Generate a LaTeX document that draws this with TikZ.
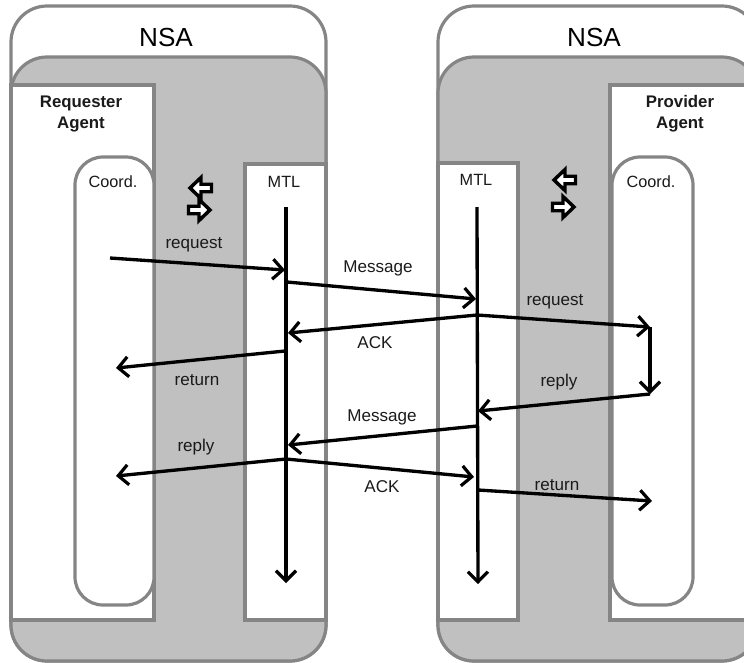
\documentclass[tikz,border=0pt]{standalone}
\usepackage{fontspec}
\setmainfont{Liberation Sans}
\usetikzlibrary{arrows.meta}
\definecolor{edge}{HTML}{858585}
\definecolor{panel}{HTML}{C0C0C0}
\definecolor{ink}{HTML}{1A1A1A}
\tikzset{
  box/.style={draw=edge,line width=2.4pt,inner sep=0pt,outer sep=0pt,anchor=north west},
  outerbox/.style={box,fill=white,rounded corners=27pt},
  grayzone/.style={box,fill=panel,rounded corners=27pt},
  whitebox/.style={box,fill=white},
  coordbox/.style={box,fill=white,rounded corners=21pt},
  flow/.style={line width=2.5pt,black,-{Straight Barb[length=7.5pt,width=15pt,line width=2.4pt]}},
  plainlabel/.style={font=\fontsize{12.8}{15}\selectfont,text=ink,inner sep=0pt},
  boxlabel/.style={font=\fontsize{12.2}{14}\selectfont,text=ink,inner sep=0pt},
  titlelabel/.style={font=\fontsize{19.6}{22}\selectfont,text=black,inner sep=0pt},
  agentlabel/.style={font=\fontsize{12.6}{15.8}\selectfont\bfseries,text=ink,inner sep=0pt,align=center},
  blockleft/.pic={\draw[black,fill=white,line width=2.6pt,line join=miter]
     (-10,0)--(1,-10.5)--(1,-3.75)--(11.5,-3.75)--(11.5,3.75)--(1,3.75)--(1,10.5)--cycle;},
  blockright/.pic={\draw[black,fill=white,line width=2.6pt,line join=miter]
     (10,0)--(-1,-10.5)--(-1,-3.75)--(-11.5,-3.75)--(-11.5,3.75)--(-1,3.75)--(-1,10.5)--cycle;},
}
\begin{document}
\begin{tikzpicture}[x=0.75pt,y=-0.75pt]
\useasboundingbox (0,0) rectangle (744,662);
\clip (0,0) rectangle (744,662);
% left NSA
\node[outerbox,minimum width=236.25pt,minimum height=491.25pt] (nsaL) at (11,6) {};
\node[grayzone,minimum width=236.25pt,minimum height=453pt] (grayL) at (11,57) {};
\node[whitebox,minimum width=107.25pt,minimum height=401.25pt] (reqbox) at (11,85) {};
\node[coordbox,minimum width=59.25pt,minimum height=336pt] (coordL) at (75,157) {};
\node[whitebox,minimum width=60.75pt,minimum height=342pt] (mtlL) at (245,164) {};
% right NSA
\node[outerbox,minimum width=240pt,minimum height=491.25pt] (nsaR) at (438,6) {};
\node[grayzone,minimum width=240pt,minimum height=453pt] (grayR) at (438,57) {};
\node[whitebox,minimum width=60pt,minimum height=342.75pt] (mtlR) at (438,163) {};
\node[whitebox,minimum width=115pt,minimum height=401.25pt] (provbox) at (610,85) {};
\node[coordbox,minimum width=60.75pt,minimum height=336pt] (coordR) at (612,157) {};
% titles
\node[titlelabel] (tL) at (166,37) {NSA};
\node[titlelabel] (tR) at (594,37) {NSA};
\node[agentlabel] (agL) at (81,114) {Requester\\Agent};
\node[agentlabel] (agR) at (680,114) {Provider\\Agent};
\node[boxlabel] (cL) at (113,182) {Coord.};
\node[boxlabel] (cR) at (651,182) {Coord.};
\node[boxlabel] (mL) at (284,182) {MTL};
\node[boxlabel] (mR) at (476,180) {MTL};
% double arrows
\pic at (200,188) {blockleft};
\pic at (200,210) {blockright};
\pic at (564,180) {blockleft};
\pic at (564,207) {blockright};
% anchor points
\coordinate (Ltop) at (286,207);
\coordinate (Lbot) at (286,583);
\coordinate (Rtop) at (477,207);
\coordinate (Rbot) at (478,584);
\coordinate (a1) at (110,258);
\coordinate (a2) at (285,270);
\coordinate (b1) at (287,282);
\coordinate (b2) at (476,299);
\coordinate (c1) at (477,315);
\coordinate (c2) at (288,333);
\coordinate (d1) at (285,351);
\coordinate (d2) at (116,368);
\coordinate (e2) at (650,327);
\coordinate (f2) at (650,394);
\coordinate (g2) at (478,411);
\coordinate (h1) at (477,426);
\coordinate (h2) at (288,445);
\coordinate (i1) at (286,459);
\coordinate (i2) at (116,476);
\coordinate (j2) at (474,477);
\coordinate (k1) at (478,490);
\coordinate (k2) at (652,501);
% lifelines
\draw[flow] (Ltop) -- (Lbot);
\draw[flow] (Rtop) -- (Rbot);
% messages
\draw[flow] (a1) -- (a2);
\draw[flow] (b1) -- (b2);
\draw[flow] (c1) -- (c2);
\draw[flow] (d1) -- (d2);
\draw[flow] (c1) -- (e2);
\draw[flow] (e2) -- (f2);
\draw[flow] (f2) -- (g2);
\draw[flow] (h1) -- (h2);
\draw[flow] (i1) -- (i2);
\draw[flow] (i1) -- (j2);
\draw[flow] (k1) -- (k2);
% labels
\node[plainlabel] (l1) at (194,245) {request};
\node[plainlabel] (l2) at (378,268) {Message};
\node[plainlabel] (l3) at (375,343) {ACK};
\node[plainlabel] (l4) at (197,380) {return};
\node[plainlabel] (l5) at (555,302) {request};
\node[plainlabel] (l6) at (559,382) {reply};
\node[plainlabel] (l7) at (382,417) {Message};
\node[plainlabel] (l8) at (196,447) {reply};
\node[plainlabel] (l9) at (382,487) {ACK};
\node[plainlabel] (l10) at (557,485) {return};
\end{tikzpicture}
\end{document}
